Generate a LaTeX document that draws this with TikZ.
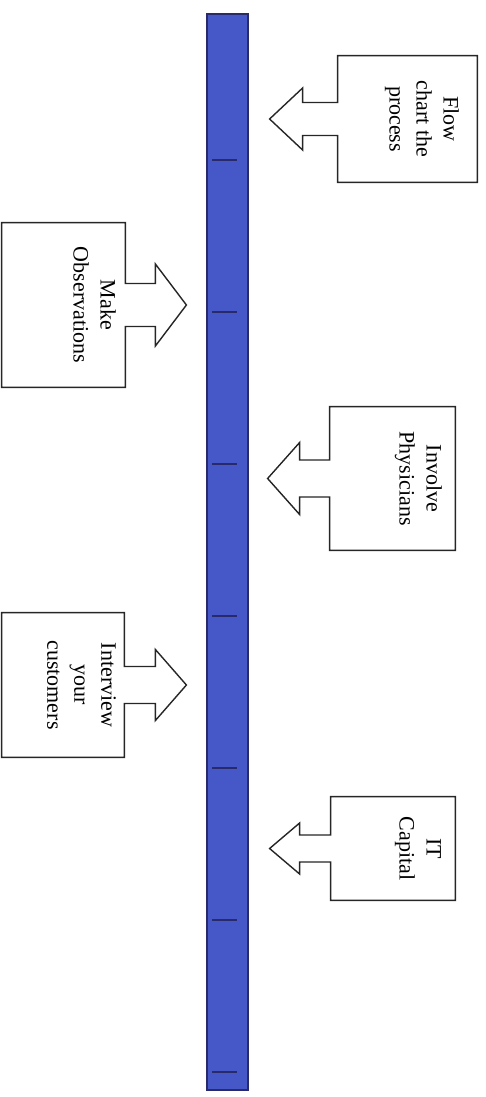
\documentclass[tikz,border=0pt]{standalone}
\usepackage{fontspec}
\setmainfont{Liberation Serif}
\usetikzlibrary{positioning}
\usetikzlibrary{calc}

\definecolor{barblue}{RGB}{70,88,200}
\definecolor{bardark}{RGB}{40,42,105}

\begin{document}
\begin{tikzpicture}[
x=0.5pt, y=-0.5pt,
outline/.style={draw=black!85, line width=0.7pt, line join=miter, fill=white}
]

\tikzstyle{box} = [inner sep=0pt, shape=rectangle]
\tikzstyle{txt} = [rotate=-90, anchor=north, inner sep=0pt, align=center, font=\fontsize{11}{13.5}\selectfont]
\tikzstyle{bar} = [draw=bardark, fill=barblue, line width=0.6pt, minimum width=20.5pt, minimum height=538pt, inner sep=0pt]

\useasboundingbox (0,0) rectangle (486,1097);

% time line
\node[bar] (line) at (227.5,552) {};
\foreach \k in {0,...,6}
    \draw[bardark, line width=1pt] ($(line.north west)+(6,147+152*\k)$) -- ++(25,0);

% boxes
\node[box, minimum width=69.5pt, minimum height=63pt] (flow) at (407.5,119) {};
\node[box, minimum width=61.5pt, minimum height=82pt] (obs) at (63.5,305) {};
\node[box, minimum width=62.5pt, minimum height=71.5pt] (phys) at (392.5,478.5) {};
\node[box, minimum width=61pt, minimum height=72pt] (cust) at (63,685) {};
\node[box, minimum width=62pt, minimum height=51.5pt] (cap) at (393,848.5) {};

% outlines with arrows
\draw[outline] ($(flow.west)+(0,-16.5)$) -- (flow.north west) -- (flow.north east) -- (flow.south east) -- (flow.south west)
    -- ($(flow.west)+(0,16.5)$) -- ++(-35,0) -- ++(0,14.5) -- ++(-33,-31) -- ++(33,-31) -- ++(0,14.5) -- cycle;
\draw[outline] ($(obs.east)+(0,-21.5)$) -- (obs.north east) -- (obs.north west) -- (obs.south west) -- (obs.south east)
    -- ($(obs.east)+(0,21.5)$) -- ++(30,0) -- ++(0,19.5) -- ++(31,-41) -- ++(-31,-41) -- ++(0,19.5) -- cycle;
\draw[outline] ($(phys.west)+(0,-18.5)$) -- (phys.north west) -- (phys.north east) -- (phys.south east) -- (phys.south west)
    -- ($(phys.west)+(0,18.5)$) -- ++(-30,0) -- ++(0,17.5) -- ++(-32,-36) -- ++(32,-36) -- ++(0,17.5) -- cycle;
\draw[outline] ($(cust.east)+(0,-18.5)$) -- (cust.north east) -- (cust.north west) -- (cust.south west) -- (cust.south east)
    -- ($(cust.east)+(0,18.5)$) -- ++(31,0) -- ++(0,17) -- ++(31,-35.5) -- ++(-31,-35.5) -- ++(0,17) -- cycle;
\draw[outline] ($(cap.west)+(0,-13.5)$) -- (cap.north west) -- (cap.north east) -- (cap.south east) -- (cap.south west)
    -- ($(cap.west)+(0,13.5)$) -- ++(-31,0) -- ++(0,12) -- ++(-30,-25.5) -- ++(30,-25.5) -- ++(0,12) -- cycle;

% texts
\node[txt] (flowtxt) at ($(flow.east)+(-18,0)$) {Flow\\chart the\\process};
\node[txt] (obstxt) at ($(obs.east)+(-9,0)$) {Make\\Observations};
\node[txt] (physTxt) at ($(phys.east)+(-13,0)$) {Involve\\Physicians};
\node[txt] (custtxt) at ($(cust.east)+(-8,0)$) {Interview\\your\\customers};
\node[txt] (captxt) at ($(cap.east)+(-14,0)$) {IT\\Capital};
\end{tikzpicture}
\end{document}
